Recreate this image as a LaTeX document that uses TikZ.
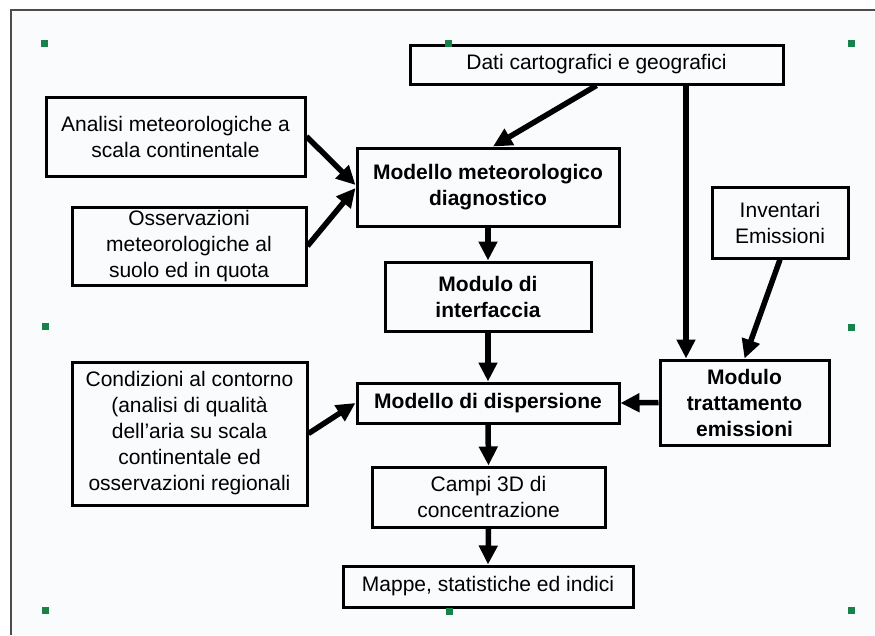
\documentclass[tikz,border=0pt]{standalone}
\usepackage{fontspec}
\setmainfont{Liberation Sans}
\usetikzlibrary{arrows.meta,calc}
\definecolor{maniglia}{RGB}{25,130,75}
\definecolor{sfondo}{RGB}{250,251,253}

\begin{document}
\begin{tikzpicture}[x=1pt,y=-1pt,
    box/.style={draw, line width=3pt, align=center, inner sep=0pt,
        font=\fontsize{21}{26}\selectfont},
    boxb/.style={box, font=\fontsize{21}{26}\selectfont\bfseries},
    freccia/.style={line width=5.5pt, -{Triangle[length=19pt,width=18pt]}},
    punto/.style={fill=maniglia, minimum size=7pt, inner sep=0pt}]
            \useasboundingbox (0,0) rectangle (875,635);
            \fill[sfondo] (11,10) rectangle (875,635);
            \draw[line width=1.5pt, black!70] (11,635) -- (11,10) -- (875,10);

            \node[box, minimum width=373pt, minimum height=39pt] (dati) at (596.5,64.5)
                {Dati cartografici e geografici};
            \node[box, minimum width=259pt, minimum height=79pt] (analisi) at (175.5,136.5)
                {Analisi meteorologiche a\\scala continentale};
            \node[box, minimum width=234pt, minimum height=78pt] (osserv) at (189,246)
                {Osservazioni\\meteorologiche al\\suolo ed in quota};
            \node[boxb, minimum width=262pt, minimum height=78pt] (meteo) at (488,187)
                {Modello meteorologico\\diagnostico};
            \node[boxb, minimum width=206pt, minimum height=69pt] (interf) at (488,296.5)
                {Modulo di\\interfaccia};
            \node[box, minimum width=136pt, minimum height=71pt] (invent) at (780,222.5)
                {Inventari\\Emissioni};
            \node[boxb, minimum width=169pt, minimum height=85pt] (tratt) at (744.5,402.5)
                {Modulo\\trattamento\\emissioni};
            \node[boxb, minimum width=262pt, minimum height=40pt] (disp) at (488,403)
                {Modello di dispersione};
            \node[box, minimum width=235pt, minimum height=143pt] (condiz) at (189.5,433.5)
                {Condizioni al contorno\\(analisi di qualità\\dell'aria su scala\\continentale ed\\osservazioni regionali};
            \node[box, minimum width=233pt, minimum height=60pt] (campi) at (488.5,497)
                {Campi 3D di\\concentrazione};
            \node[box, minimum width=290pt, minimum height=41pt] (mappe) at (488,586.5)
                {Mappe, statistiche ed indici};

            % frecce
            \coordinate (v) at ([xshift=89.5pt]dati.south);
            \draw[freccia] (dati.south) -- ([xshift=5pt]meteo.north);
            \draw[freccia] (v) -- (v |- tratt.north);
            \draw[freccia] (analisi.east) -- ([yshift=2pt]meteo.west);
            \draw[freccia] (osserv.east) -- ([yshift=-1pt]meteo.west);
            \draw[freccia] (meteo.south) -- (interf.north);
            \draw[freccia] (interf.south) -- (disp.north);
            \draw[freccia] (condiz.east) -- (disp.west);
            \draw[freccia] (tratt.west) -- (disp.east);
            \draw[freccia] (invent.south) -- (tratt.north);
            \draw[freccia] (disp.south) -- (campi.north);
            \draw[freccia] (campi.south) -- (mappe.north);

            \foreach \x/\y [count=\i] in {44/43, 448/43, 851/43, 45/326, 851/327, 45/610, 449/611, 851/610}
                \node[punto] (m\i) at (\x,\y) {};
        \end{tikzpicture}
\end{document}
